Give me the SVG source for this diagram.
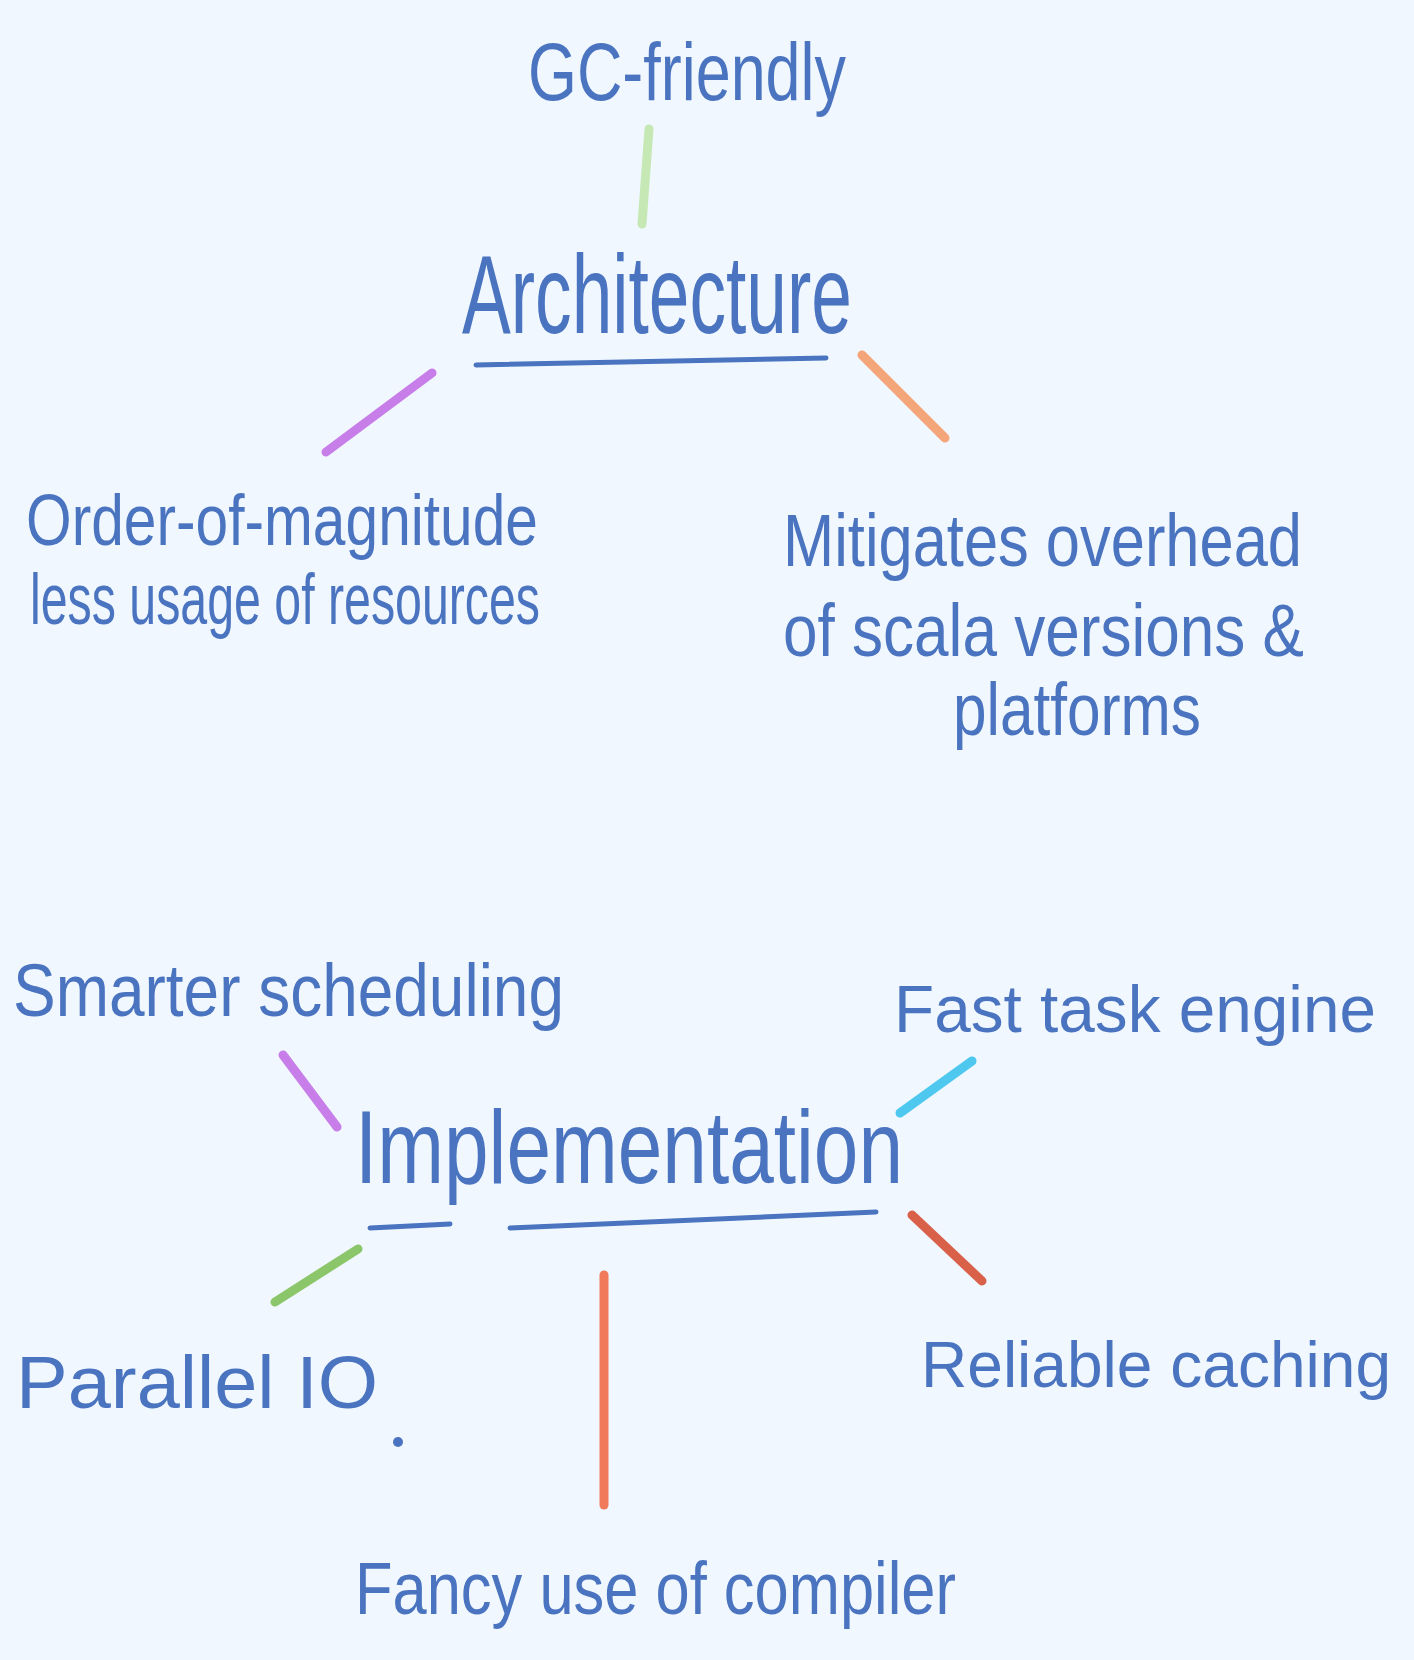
<svg xmlns="http://www.w3.org/2000/svg" width="1414" height="1660" viewBox="0 0 1414 1660">
<style>
.t{font-family:"Liberation Sans","DejaVu Sans",sans-serif;fill:#4a74c0;}
.c{fill:none;stroke-width:9;stroke-linecap:round;}
.u{fill:none;stroke:#4a74c0;stroke-width:5;stroke-linecap:round;}
</style>
<rect width="1414" height="1660" fill="#f0f7ff"/>
<g id="gc"><text class="t" x="528" y="100" font-size="82" textLength="318" lengthAdjust="spacingAndGlyphs">GC-friendly</text></g>
<g id="architecture">
<text class="t" x="462" y="333" font-size="112" textLength="390" lengthAdjust="spacingAndGlyphs">Architecture</text>
<path class="u" d="M476,365 L826,358"/>
</g>
<g id="order">
<text class="t" x="26" y="545" font-size="72" textLength="512" lengthAdjust="spacingAndGlyphs">Order-of-magnitude</text>
<text class="t" x="30" y="624" font-size="72" textLength="510" lengthAdjust="spacingAndGlyphs">less usage of resources</text>
</g>
<g id="mitigates">
<text class="t" x="783" y="566" font-size="74" textLength="519" lengthAdjust="spacingAndGlyphs">Mitigates overhead</text>
<text class="t" x="783" y="656" font-size="74" textLength="521" lengthAdjust="spacingAndGlyphs">of scala versions &amp;</text>
<text class="t" x="953" y="735" font-size="74" textLength="248" lengthAdjust="spacingAndGlyphs">platforms</text>
</g>
<g id="smarter"><text class="t" x="13" y="1016" font-size="74" textLength="551" lengthAdjust="spacingAndGlyphs">Smarter scheduling</text></g>
<g id="fast"><text class="t" x="894" y="1032" font-size="66" textLength="482" lengthAdjust="spacingAndGlyphs">Fast task engine</text></g>
<g id="implementation">
<text class="t" x="355" y="1183" font-size="104" textLength="548" lengthAdjust="spacingAndGlyphs">Implementation</text>
<path class="u" d="M370,1228 L450,1224 M510,1228 L876,1212"/>
</g>
<g id="parallel">
<text class="t" x="16" y="1408" font-size="74" textLength="362" lengthAdjust="spacingAndGlyphs">Parallel IO</text>
<circle cx="398" cy="1442" r="5" fill="#4a74c0"/>
</g>
<g id="reliable"><text class="t" x="921" y="1387" font-size="64" textLength="470" lengthAdjust="spacingAndGlyphs">Reliable caching</text></g>
<g id="fancy"><text class="t" x="355" y="1614" font-size="74" textLength="601" lengthAdjust="spacingAndGlyphs">Fancy use of compiler</text></g>
<g id="connectors">
<path class="c" stroke="#c6e8b4" d="M649,129 L642,224"/>
<path class="c" stroke="#c77ee8" d="M432,373 L326,452"/>
<path class="c" stroke="#f5a57a" d="M862,355 L945,438"/>
<path class="c" stroke="#c77ee8" d="M283,1055 L337,1127"/>
<path class="c" stroke="#4fc8f0" d="M972,1061 L900,1113"/>
<path class="c" stroke="#8cc66a" d="M358,1249 L275,1302"/>
<path class="c" stroke="#d9614a" d="M912,1215 L982,1281"/>
<path class="c" stroke="#f07a5a" d="M604,1275 L604,1505"/>
</g>
</svg>
